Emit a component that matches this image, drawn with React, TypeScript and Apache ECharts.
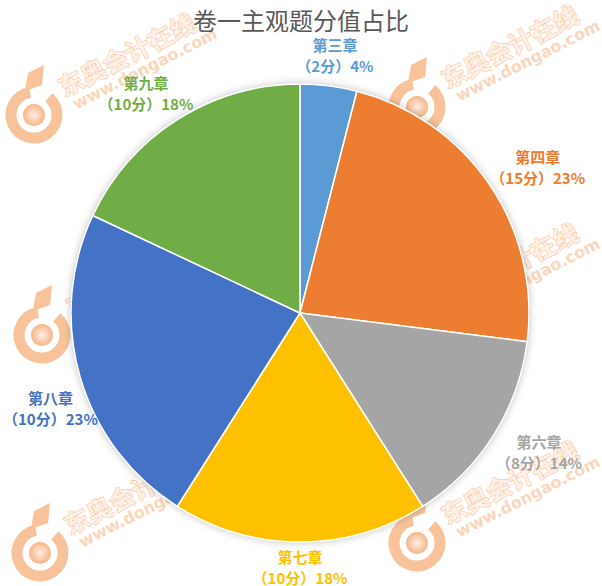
import React, { useEffect, useRef } from 'react';
import * as echarts from 'echarts';

const chapters = ['第三章', '第四章', '第六章', '第七章', '第八章', '第九章'];
const scores = [2, 15, 8, 10, 10, 10];
const shares = [4, 23, 14, 18, 23, 18];
const colors = ['#5B9BD5', '#ED7D31', '#A5A5A5', '#FFC000', '#4472C4', '#70AD47'];
const titleText = '卷一主观题分值占比';
const wmTitle = '东奥会计在线';
const wmSite = 'www.dongao.com';

const W = 602;
const H = 586;
const CX = 300;
const CY = 313;
const R = 229;
const GAP = 11;
const HALF_H = 20;
const LABEL_FONT = 'bold 15px "Noto Sans CJK SC", sans-serif';
const LINE_H = 21;

const wmSpots: [number, number][] = [
  [34, 115], [417, 107], [42, 335], [417, 325], [40, 553], [417, 543],
];

const WM = '#F8C39B';

function labelText(i: number) {
  return `${chapters[i]}\n（${scores[i]}分）${shares[i]}%`;
}

function measureLines(text: string): number[] {
  const cv = document.createElement('canvas');
  const ctx = cv.getContext('2d');
  const lines = text.split('\n');
  if (!ctx) return lines.map(() => 90);
  ctx.font = LABEL_FONT;
  return lines.map((l) => ctx.measureText(l).width);
}

function hitsPie(x: number, y: number, lineWs: number[]): boolean {
  const n = lineWs.length;
  for (let k = 0; k < n; k++) {
    const ly = y + (k - (n - 1) / 2) * LINE_H;
    const left = x - lineWs[k] / 2;
    const right = x + lineWs[k] / 2;
    const top = ly - 8;
    const bottom = ly + 8;
    const nx = Math.min(Math.max(CX, left), right);
    const ny = Math.min(Math.max(CY, top), bottom);
    if (Math.hypot(nx - CX, ny - CY) < R - 5) return true;
  }
  return false;
}

function watermark(x: number, y: number) {
  const rot = (27 * Math.PI) / 180;
  return {
    type: 'group',
    x,
    y,
    silent: true,
    z: 0,
    children: [
      {
        type: 'arc',
        shape: { cx: 0, cy: 0, r: 23, startAngle: (-50 * Math.PI) / 180, endAngle: (260 * Math.PI) / 180, clockwise: true },
        style: { stroke: WM, lineWidth: 11, fill: null },
      },
      {
        type: 'polygon',
        shape: { points: [[-9, -24], [-6, -42], [10, -50], [8, -30]] },
        style: { fill: WM },
      },
      {
        type: 'circle',
        shape: { cx: 0, cy: 0, r: 11 },
        style: {
          fill: new echarts.graphic.RadialGradient(0.5, 0.5, 0.5, [
            { offset: 0, color: '#FDEEE2' },
            { offset: 1, color: '#F6B689' },
          ]),
        },
      },
      {
        type: 'group',
        rotation: rot,
        children: [
          {
            type: 'text',
            x: 35,
            y: -13,
            style: {
              text: wmTitle,
              font: 'bold 25px "Noto Sans CJK SC"',
              fill: '#FEF1E7',
              stroke: '#F8C39E',
              lineWidth: 1.2,
              verticalAlign: 'middle',
              align: 'left',
            },
          },
          {
            type: 'text',
            x: 40,
            y: 9,
            style: {
              text: wmSite,
              font: 'bold 16px "DejaVu Sans"',
              fill: '#FAD6BC',
              verticalAlign: 'middle',
              align: 'left',
            },
          },
        ],
      },
    ],
  };
}

export default function App() {
  const ref = useRef<HTMLDivElement>(null);
  useEffect(() => {
    if (!ref.current) return;
    const chart = echarts.init(ref.current, null, { renderer: 'svg' });
    const total = shares.reduce((a, b) => a + b, 0);
    const mids: number[] = [];
    let acc = 0;
    shares.forEach((s) => {
      mids.push(((acc + s / 2) / total) * Math.PI * 2);
      acc += s;
    });
    const lineWidths = chapters.map((_, i) => measureLines(labelText(i)));
    chart.setOption({
      animation: false,
      backgroundColor: '#ffffff',
      title: {
        text: titleText,
        left: 'center',
        top: 2,
        textStyle: {
          fontSize: 24,
          fontWeight: 'normal',
          color: '#595959',
          fontFamily: '"Noto Sans CJK SC", sans-serif',
        },
      },
      graphic: [
        ...wmSpots.map(([x, y]) => watermark(x, y)),
        {
          type: 'circle',
          silent: true,
          z: 1,
          shape: { cx: CX, cy: CY, r: R - 1 },
          style: { fill: '#ffffff', shadowBlur: 10, shadowColor: 'rgba(0,0,0,0.35)' },
        },
      ],
      series: [
        {
          type: 'pie',
          z: 3,
          center: [CX, CY],
          radius: R,
          startAngle: 90,
          clockwise: true,
          data: chapters.map((name, i) => ({
            name,
            value: shares[i],
            itemStyle: { color: colors[i] },
            label: { color: colors[i] },
          })),
          itemStyle: { borderColor: '#ffffff', borderWidth: 1.5 },
          labelLine: { show: false },
          label: {
            show: true,
            position: 'outside',
            fontSize: 15,
            fontWeight: 'bold',
            lineHeight: LINE_H,
            width: 130,
            overflow: 'none',
            fontFamily: '"Noto Sans CJK SC", sans-serif',
            formatter: (p: any) => labelText(p.dataIndex),
          },
          labelLayout: (params: any) => {
            const i = params.dataIndex;
            const a = mids[i];
            const s = Math.sin(a);
            const c = Math.cos(a);
            const lw = lineWidths[i];
            const hw = Math.max(...lw) / 2;
            let x = CX + (R + GAP) * s + hw * s;
            let y = CY - (R + GAP) * c - HALF_H * c;
            const cx = Math.min(Math.max(x, hw + 3), W - hw - 3);
            if (cx !== x) {
              x = cx;
              const dir = y >= CY ? 1 : -1;
              let guard = 0;
              while (hitsPie(x, y, lw) && guard < 200) {
                y += dir;
                guard++;
              }
            }
            y = Math.min(Math.max(y, HALF_H + 2), H - 19);
            return { x, y, align: 'center', verticalAlign: 'middle' };
          },
        },
      ],
    });
    return () => chart.dispose();
  }, []);
  return (
    <div
      ref={ref}
      style={{ position: 'absolute', left: 0, top: 0, width: W, height: H }}
    />
  );
}
